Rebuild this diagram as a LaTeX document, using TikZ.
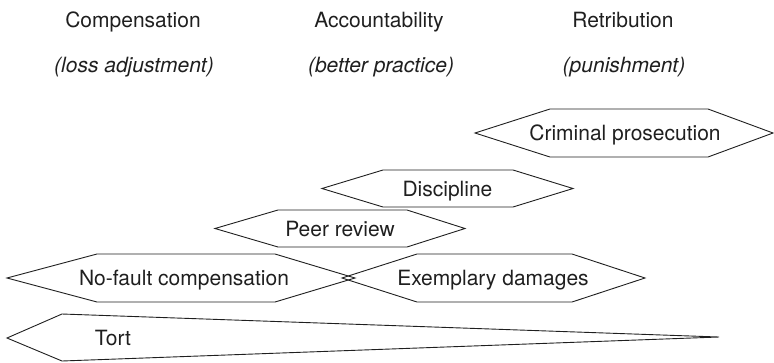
\documentclass[tikz,border=0pt]{standalone}
\usepackage{fontspec}
\setmainfont{TeX Gyre Heros}
% hexagonal band: name, left tip x, inner left x, inner right x, right tip x, mid y, half height, text x, text
\newcommand\hexband[9]{%
  \coordinate (#1-w) at (#2,#6);
  \coordinate (#1-nw) at (#3,#6-#7);
  \coordinate (#1-ne) at (#4,#6-#7);
  \coordinate (#1-e) at (#5,#6);
  \coordinate (#1-se) at (#4,#6+#7);
  \coordinate (#1-sw) at (#3,#6+#7);
  \draw[band] (#1-w) -- (#1-nw) -- (#1-ne) -- (#1-e) -- (#1-se) -- (#1-sw) -- cycle;
  \node[label] (#1) at (#8,#6+7.5) {#9};}
\begin{document}
\begin{tikzpicture}[x=1bp,y=-1bp,
  band/.style={draw=black!88, line width=0.9bp, line join=miter},
  label/.style={font=\fontsize{21bp}{25bp}\selectfont, anchor=base, inner sep=0pt, text=black!88},
  subheading/.style={label, font=\fontsize{21bp}{25bp}\selectfont\itshape}]
\useasboundingbox (0,0) rectangle (774,362);

% column headings
\node[label] (comp) at (133,27) {Compensation};
\node[label] (acc) at (379,27) {Accountability};
\node[label] (ret) at (623,27) {Retribution};
\node[subheading] (comp-sub) at (134,72) {(loss adjustment)};
\node[subheading] (acc-sub) at (381,72) {(better practice)};
\node[subheading] (ret-sub) at (624,72) {(punishment)};

% bands
\hexband{crim}{475}{550}{708}{773}{133}{24}{625}{Criminal prosecution}
\hexband{disc}{322}{383}{513}{573}{188.5}{18.5}{447.5}{Discipline}
\hexband{peer}{215}{278}{407}{465}{228.5}{18.5}{340}{Peer review}
\hexband{nofault}{7}{97}{275}{355}{278}{24}{184}{No-fault compensation}
\hexband{exem}{342}{417}{572}{645}{278}{24}{493}{Exemplary damages}

% tapering tort band
\coordinate (tort-w) at (7,338);
\coordinate (tort-nw) at (62,314);
\coordinate (tort-e) at (719,337);
\coordinate (tort-sw) at (62,361);
\draw[band] (tort-w) -- (tort-nw) -- (tort-e) -- (tort-sw) -- cycle;
\node[label] (tort) at (113,345.5) {Tort};
\end{tikzpicture}
\end{document}
